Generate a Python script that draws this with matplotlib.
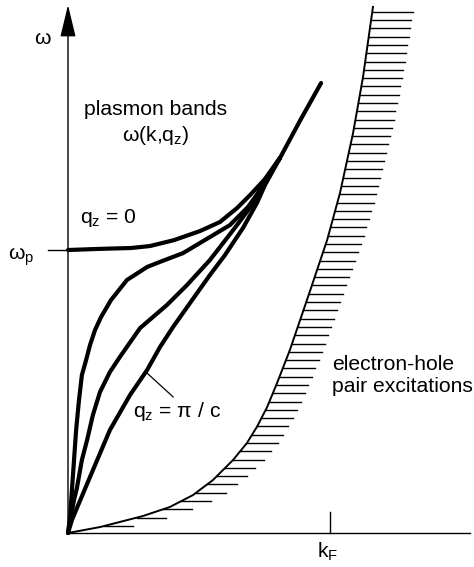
import numpy as np
import matplotlib
matplotlib.use("Agg")
import matplotlib.pyplot as plt

plt.rcParams['font.family'] = ['Liberation Sans', 'DejaVu Sans']
plt.rcParams['mathtext.fontset'] = 'custom'
plt.rcParams['mathtext.rm'] = 'Liberation Sans'
plt.rcParams['mathtext.it'] = 'Liberation Sans'
plt.rcParams['mathtext.default'] = 'regular'

# k in units of k_F, omega in units of omega_p
k_q0 = [0.0, 0.122, 0.240, 0.313, 0.405, 0.504, 0.580, 0.645, 0.695, 0.752, 0.809, 0.885, 0.966]
w_q0 = [1.0, 1.004, 1.007, 1.014, 1.035, 1.067, 1.099, 1.148, 1.194, 1.251, 1.325, 1.456, 1.590]

k_b1 = [0.0, 0.008, 0.015, 0.023, 0.031, 0.042, 0.053, 0.069, 0.084, 0.103, 0.126,
        0.164, 0.225, 0.302, 0.351, 0.439, 0.542, 0.618, 0.687, 0.725, 0.752, 0.809]
w_b1 = [0.0, 0.057, 0.152, 0.258, 0.364, 0.470, 0.558, 0.611, 0.664, 0.717, 0.763,
        0.823, 0.894, 0.940, 0.958, 0.989, 1.046, 1.088, 1.152, 1.201, 1.247, 1.325]

k_b2 = [0.0, 0.011, 0.023, 0.034, 0.053, 0.073, 0.095, 0.122, 0.160, 0.198, 0.275,
        0.378, 0.454, 0.542, 0.645, 0.702, 0.752, 0.809]
w_b2 = [0.0, 0.057, 0.117, 0.159, 0.258, 0.329, 0.417, 0.498, 0.569, 0.622, 0.724,
        0.806, 0.876, 0.965, 1.088, 1.159, 1.247, 1.325]

k_pi = [0.0, 0.015, 0.034, 0.084, 0.160, 0.237, 0.302, 0.351, 0.401, 0.466, 0.542,
        0.599, 0.668, 0.721, 0.752, 0.809]
w_pi = [0.0, 0.046, 0.088, 0.198, 0.364, 0.488, 0.576, 0.657, 0.728, 0.813, 0.912,
        0.982, 1.078, 1.166, 1.230, 1.325]

# upper edge of the electron-hole continuum
k_eh = [0.0, 0.122, 0.198, 0.286, 0.389, 0.477, 0.553, 0.630, 0.683, 0.721, 0.760,
        0.798, 0.847, 0.916, 0.989, 1.038, 1.088, 1.126, 1.164]
w_eh = [0.0, 0.021, 0.039, 0.060, 0.092, 0.134, 0.187, 0.258, 0.318, 0.375, 0.445,
        0.530, 0.647, 0.834, 1.035, 1.201, 1.413, 1.611, 1.859]

fig = plt.figure(figsize=(4.74, 5.67), dpi=100)
ax = fig.add_axes([0, 0, 1, 1])
ax.set_xlim(-68 / 262, 406 / 262)
ax.set_ylim(-34 / 283, 533 / 283)
ax.axis('off')

# axes
ax.plot([0, 1.534], [0, 0], color='k', lw=1.0)
ax.annotate('', xy=(0, 1.866), xytext=(0, 0),
            arrowprops=dict(arrowstyle='-|>,head_length=1.0,head_width=0.24',
                            mutation_scale=20, lw=1.0, color='k',
                            shrinkA=0, shrinkB=0))
ax.plot([1, 1], [0, 0.075], color='k', lw=1.0)
ax.plot([-0.076, 0], [1, 1], color='k', lw=1.0)

# plasmon bands
for kk, ww in [(k_q0, w_q0), (k_b1, w_b1), (k_b2, w_b2), (k_pi, w_pi)]:
    ax.plot(kk, ww, color='k', lw=3.0, solid_joinstyle='round', solid_capstyle='round')

# continuum boundary + hatching
ax.plot(k_eh, w_eh, color='k', lw=1.4, solid_joinstyle='round')
levels = np.arange(0.025, 1.845, 0.0293)
for lv in levels:
    k0 = np.interp(lv, w_eh, k_eh)
    ln = 0.11 + 0.045 * lv / 1.86
    ax.plot([k0, k0 + ln], [lv, lv], color='k', lw=1.0)

# pointer for q_z = pi/c
ax.plot([0.302, 0.401], [0.565, 0.481], color='k', lw=0.9)

fs = 15.2
ax.text(0.334, 1.498, 'plasmon bands', fontsize=fs, ha='center', va='center')
ax.text(0.334, 1.403, 'ω(k,q$_z$)', fontsize=fs, ha='center', va='center')
ax.text(0.046, 1.113, 'q$_z$ = 0', fontsize=fs, ha='left', va='center')
ax.text(0.248, 0.428, 'q$_z$ = π / c', fontsize=fs, ha='left', va='center')
ax.text(-0.097, 1.749, 'ω', fontsize=fs, ha='center', va='center')
ax.text(-0.229, 0.975, 'ω$_p$', fontsize=fs, ha='left', va='center')
ax.text(0.992, -0.067, 'k$_F$', fontsize=fs, ha='center', va='center')
ax.text(1.008, 0.597, 'electron-hole', fontsize=fs, ha='left', va='center')
ax.text(1.008, 0.519, 'pair excitations', fontsize=fs, ha='left', va='center')

fig.savefig('out.png', dpi=100, facecolor='white')
